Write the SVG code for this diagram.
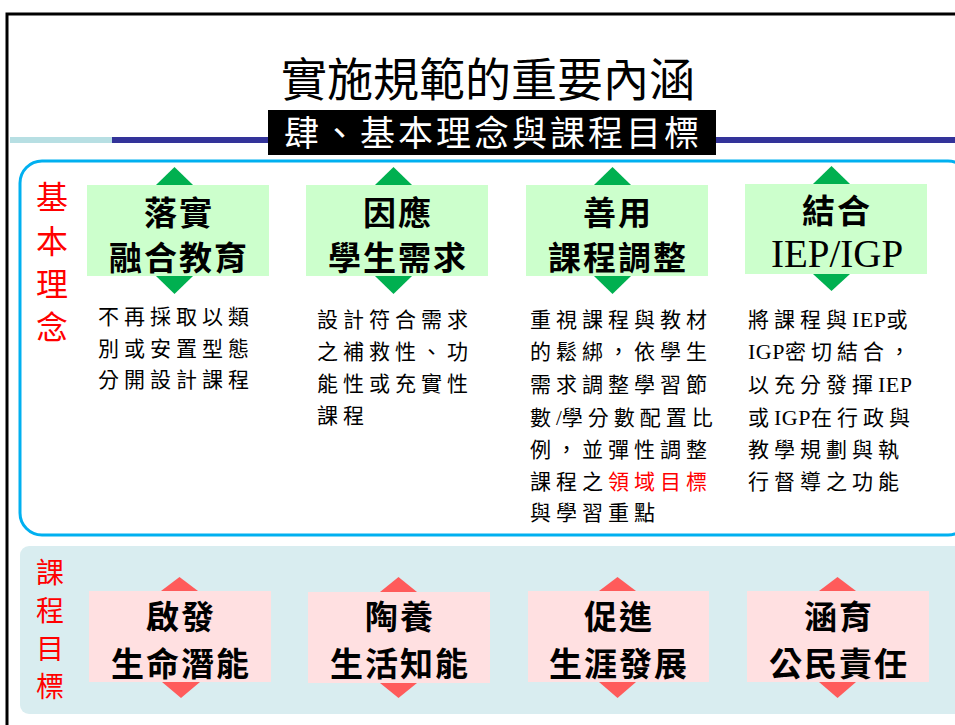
<svg xmlns="http://www.w3.org/2000/svg" width="955" height="725" viewBox="0 0 955 725">
<style>
.cjk{font-family:"Noto Sans CJK TC","Noto Sans CJK SC",sans-serif}
.title{font-size:46px;fill:#000}
.sub{font-size:35px;fill:#fff;letter-spacing:3px}
.lab{font-size:32px;fill:#ff0000;text-anchor:middle}
.lab2{font-size:28px;fill:#ff0000;text-anchor:middle}
.box{font-size:33px;font-weight:bold;fill:#000;text-anchor:middle;letter-spacing:2px}
.desc{font-family:"Liberation Serif","Noto Sans CJK TC",serif;font-size:21px;fill:#000;letter-spacing:5px}
.lat{font-size:22px;letter-spacing:0.5px}
.red{fill:#ff0000}
.gbox{fill:#ccffcc}
.gtri{fill:#00b050}
.pbox{fill:#ffe0e1}
.ptri{fill:#ff5b5b}
</style>
<rect width="955" height="725" fill="#fff"/>
<g id="frame">
<path d="M7,725 V14 H955" fill="none" stroke="#000" stroke-width="3"/>
<rect x="10" y="137" width="102" height="6" fill="#b7dfe3"/>
<rect x="112" y="137" width="843" height="6" fill="#333399"/>
</g>
<g id="title">
<text class="cjk title" x="488" y="96" text-anchor="middle">實施規範的重要內涵</text>
<rect x="268" y="110" width="448" height="45" fill="#000"/>
<text class="cjk sub" x="493" y="146" text-anchor="middle">肆、基本理念與課程目標</text>
</g>
<g id="panel-concepts">
<rect x="20" y="161" width="950" height="374" rx="22" fill="#fff" stroke="#00b0f0" stroke-width="3"/>
<text class="cjk lab" x="52" y="209">基<tspan x="52" dy="44">本</tspan><tspan x="52" dy="43">理</tspan><tspan x="52" dy="43">念</tspan></text>
</g>
<g id="panel-goals">
<rect x="20" y="546" width="950" height="168" rx="9" fill="#d9edf0"/>
<text class="cjk lab2" x="50" y="583">課<tspan x="50" dy="38">程</tspan><tspan x="50" dy="38">目</tspan><tspan x="50" dy="38">標</tspan></text>
</g>
<g id="connectors">
<polygon class="gtri" points="156,185 174.5,167 193,185"/>
<polygon class="gtri" points="156,276 174.5,294 193,276"/>
<polygon class="gtri" points="375,185 393.5,167 412,185"/>
<polygon class="gtri" points="375,276 393.5,294 412,276"/>
<polygon class="gtri" points="594,185 612.5,167 631,185"/>
<polygon class="gtri" points="594,276 612.5,294 631,276"/>
<polygon class="gtri" points="813,184 831.5,166 850,184"/>
<polygon class="gtri" points="813,274 831.5,291 850,274"/>
<polygon class="ptri" points="161,591 179.5,577 198,591"/>
<polygon class="ptri" points="162,682 181,698 200,682"/>
<polygon class="ptri" points="380,592 398.5,577 417,592"/>
<polygon class="ptri" points="380,683 398.5,698 417,683"/>
<polygon class="ptri" points="599,591 617.5,577 636,591"/>
<polygon class="ptri" points="599,682 617.5,698 636,682"/>
<polygon class="ptri" points="819,591 837.5,577 856,591"/>
<polygon class="ptri" points="819,682 837.5,698 856,682"/>
</g>
<g id="node-c1">
<rect class="gbox" x="87" y="185" width="182" height="91"/>
<text class="cjk box" x="179" y="225">落實</text>
<text class="cjk box" x="179" y="270">融合教育</text>
<text class="desc" x="98" y="324">不再採取以類</text>
<text class="desc" x="98" y="356">別或安置型態</text>
<text class="desc" x="98" y="387">分開設計課程</text>
</g>
<g id="node-c2">
<rect class="gbox" x="306" y="185" width="182" height="91"/>
<text class="cjk box" x="398" y="225">因應</text>
<text class="cjk box" x="398" y="270">學生需求</text>
<text class="desc" x="317" y="327">設計符合需求</text>
<text class="desc" x="317" y="359">之補救性、功</text>
<text class="desc" x="317" y="391">能性或充實性</text>
<text class="desc" x="317" y="423">課程</text>
</g>
<g id="node-c3">
<rect class="gbox" x="526" y="185" width="182" height="91"/>
<text class="cjk box" x="618" y="225">善用</text>
<text class="cjk box" x="618" y="270">課程調整</text>
<text class="desc" x="530" y="327">重視課程與教材</text>
<text class="desc" x="530" y="359">的鬆綁，依學生</text>
<text class="desc" x="530" y="392">需求調整學習節</text>
<text class="desc" x="530" y="425">數<tspan letter-spacing="0">/</tspan>學分數配置比</text>
<text class="desc" x="530" y="457">例，並彈性調整</text>
<text class="desc" x="530" y="489">課程之<tspan class="red">領域目標</tspan></text>
<text class="desc" x="530" y="520">與學習重點</text>
</g>
<g id="node-c4">
<rect class="gbox" x="745" y="184" width="182" height="90"/>
<text class="cjk box" x="837" y="223">結合</text>
<text x="837" y="267" text-anchor="middle" font-family="Liberation Serif,serif" font-size="39" fill="#000">IEP/IGP</text>
<text class="desc" x="748" y="327">將課程與<tspan class="lat">IEP</tspan>或</text>
<text class="desc" x="748" y="359"><tspan class="lat">IGP</tspan>密切結合，</text>
<text class="desc" x="748" y="392">以充分發揮<tspan class="lat">IEP</tspan></text>
<text class="desc" x="748" y="425">或<tspan class="lat">IGP</tspan>在行政與</text>
<text class="desc" x="748" y="457">教學規劃與執</text>
<text class="desc" x="748" y="489">行督導之功能</text>
</g>
<g id="node-g1">
<rect class="pbox" x="89" y="591" width="182" height="91"/>
<text class="cjk box" x="181" y="629">啟發</text>
<text class="cjk box" x="181" y="676">生命潛能</text>
</g>
<g id="node-g2">
<rect class="pbox" x="308" y="592" width="182" height="91"/>
<text class="cjk box" x="400" y="629">陶養</text>
<text class="cjk box" x="400" y="676">生活知能</text>
</g>
<g id="node-g3">
<rect class="pbox" x="528" y="591" width="181" height="91"/>
<text class="cjk box" x="619" y="629">促進</text>
<text class="cjk box" x="619" y="676">生涯發展</text>
</g>
<g id="node-g4">
<rect class="pbox" x="747" y="591" width="182" height="91"/>
<text class="cjk box" x="839" y="629">涵育</text>
<text class="cjk box" x="839" y="676">公民責任</text>
</g>
</svg>
